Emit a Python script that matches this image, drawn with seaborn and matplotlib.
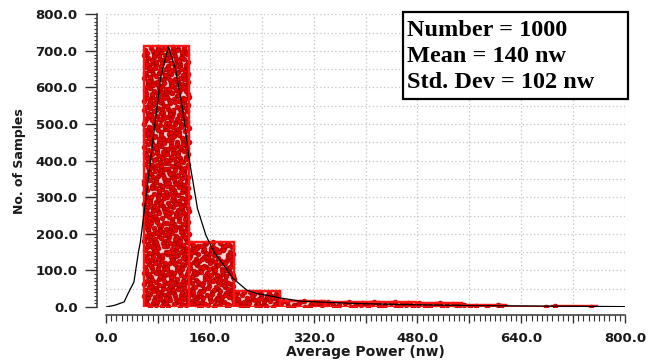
import numpy as np
import matplotlib
matplotlib.use("Agg")
import matplotlib.pyplot as plt
import seaborn as sns
from matplotlib.ticker import MultipleLocator, FuncFormatter
from matplotlib.patches import Rectangle

# ---------------- data ----------------
bin_edges = [58, 128, 198, 268, 338, 408, 478, 548, 617, 687, 757]
bin_counts = [712, 178, 43, 17, 15, 15, 11, 6, 1, 2]

curve_x = [0, 14, 28, 34, 43, 50, 53, 64, 74, 84, 96, 107, 118, 128, 141, 154,
           166, 196, 217, 232, 268, 300, 350, 400, 480, 560, 640, 720, 800]
curve_y = [0, 5, 14, 37, 68, 150, 178, 333, 479, 625, 711, 652, 543, 406, 269,
           196, 152, 78, 46, 37, 25, 16, 12, 9, 6, 4, 3, 2, 1]

stats_lines = ["Number = 1000", "Mean = 140 nw", "Std. Dev = 102 nw"]
x_label = "Average Power (nw)"
y_label = "No. of Samples"

# ---------------- style ----------------
sns.set_theme(style="white")
plt.rcParams['font.family'] = ['DejaVu Sans']

W, H = 657, 362
fig = plt.figure(figsize=(W / 100, H / 100), dpi=100)
ax = fig.add_axes([106 / W, 55 / H, 519 / W, 292.7 / H])

# dotted grid
for gx in np.arange(0, 801, 80):
    ax.axvline(gx, color='#c4c4c4', lw=0.9, ls=(0, (1, 2)), zorder=0)
for gy in np.arange(0, 801, 50):
    ax.axhline(gy, color='#c4c4c4', lw=0.9, ls=(0, (1, 2)), zorder=0)

# histogram bars (counts per bin): pink fill
sns.histplot(x=bin_edges[:-1], weights=bin_counts, bins=bin_edges, ax=ax,
             color='#fbd3d3', edgecolor='#ff1414', linewidth=1.6, alpha=1,
             zorder=1)


# sample markers: one dot per counted sample, spread evenly inside its bar
def radical_inverse(k, base):
    k = np.asarray(k, dtype=int).copy()
    out = np.zeros(len(k))
    f = 1.0 / base
    while np.any(k > 0):
        out += f * (k % base)
        k //= base
        f /= base
    return out


dot_x, dot_y = [], []
for lo, hi, n in zip(bin_edges[:-1], bin_edges[1:], bin_counts):
    k = np.arange(7, n + 7)
    u = radical_inverse(k, 2)
    v = radical_inverse(k, 3)
    dot_x.extend(lo + u * (hi - lo))
    dot_y.extend(v * n)
sns.scatterplot(x=dot_x, y=dot_y, ax=ax, s=12, color='#e80000',
                edgecolor='#a00000', linewidth=0.5, zorder=3, legend=False)

# bar outlines again on top of the dots
sns.histplot(x=bin_edges[:-1], weights=bin_counts, bins=bin_edges, ax=ax,
             fill=False, color='#ff1414', linewidth=1.6, zorder=3.5)

# fitted curve
sns.lineplot(x=curve_x, y=curve_y, ax=ax, color='black', linewidth=0.9,
             zorder=4, sort=False)

# ---------------- axes ----------------
ax.set_xlim(0, 800)
ax.set_ylim(0, 800)
for s in ['top', 'right']:
    ax.spines[s].set_visible(False)
ax.spines['left'].set_position(('outward', 6.5))
ax.spines['bottom'].set_position(('outward', 5.8))
for s in ['left', 'bottom']:
    ax.spines[s].set_color('#333333')
    ax.spines[s].set_linewidth(1.1)

ax.xaxis.set_major_locator(MultipleLocator(80))
ax.xaxis.set_minor_locator(MultipleLocator(8))
ax.xaxis.set_major_formatter(FuncFormatter(
    lambda v, p: f"{v:.1f}" if int(round(v)) % 160 == 0 else ""))
ax.yaxis.set_major_locator(MultipleLocator(100))
ax.yaxis.set_minor_locator(MultipleLocator(10))
ax.yaxis.set_major_formatter(FuncFormatter(lambda v, p: f"{v:.1f}"))

ax.tick_params(axis='x', which='major', direction='out', length=6, width=1,
               color='#333333', pad=6, labelsize=9.5, bottom=True)
ax.tick_params(axis='x', which='minor', direction='out', length=4, width=0.8,
               color='#333333', bottom=True)
ax.tick_params(axis='y', which='major', direction='out', length=8.5, width=1,
               color='#333333', pad=5.5, labelsize=9.5, left=True)
ax.tick_params(axis='y', which='minor', direction='out', length=2.5, width=0.8,
               color='#333333', left=True)
for lab in ax.get_xticklabels() + ax.get_yticklabels():
    lab.set_fontweight('bold')
    lab.set_color('#1a1a1a')

ax.set_xlabel(x_label, fontsize=10, fontweight='bold', color='#1a1a1a')
ax.set_ylabel(y_label, fontsize=9, fontweight='bold', color='#1a1a1a')
ax.xaxis.set_label_coords(0.5, -0.13)
ax.yaxis.set_label_coords(-0.154, 0.5)

# ---------------- stats box ----------------
fig.patches.append(Rectangle((402.7 / W, 1 - 99 / H), 225.3 / W, 86.7 / H,
                             transform=fig.transFigure, fill=True,
                             facecolor='white', edgecolor='black', lw=1.6,
                             zorder=10))
for line, base in zip(stats_lines, [36, 62, 88]):
    fig.text(407 / W, 1 - base / H, line, family=['Liberation Serif'],
             fontweight='bold', fontsize=17.5, va='baseline', ha='left',
             color='black', zorder=11)

fig.savefig("out.png", dpi=100)
